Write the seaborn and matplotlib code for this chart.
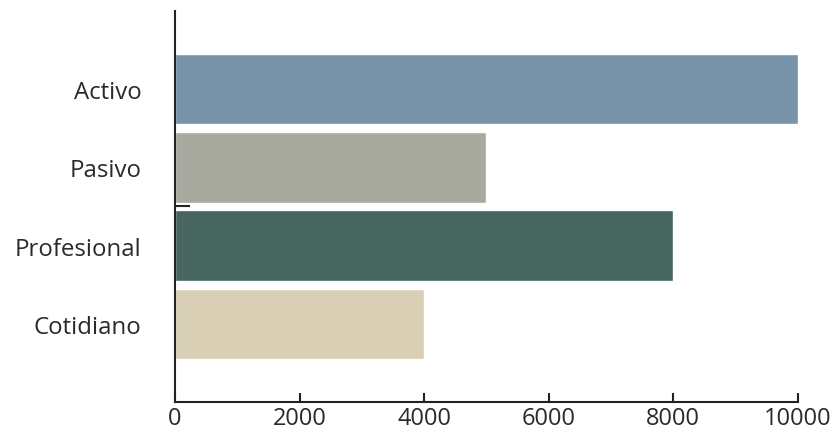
import matplotlib
matplotlib.use("Agg")
import matplotlib.pyplot as plt
import seaborn as sns
import pandas as pd

categories = ["Activo", "Pasivo", "Profesional", "Cotidiano"]
values = [10000, 5000, 8000, 4000]
colors = ["#7794AA", "#A8AAA0", "#476660", "#D9CFB5"]
xticks = [0, 2000, 4000, 6000, 8000, 10000]

sns.set_style("white")
plt.rcParams["font.family"] = ["Open Sans", "DejaVu Sans"]

df = pd.DataFrame({"categoria": categories, "valor": values})

fig = plt.figure(figsize=(8.39, 4.35), dpi=100)
ax = fig.add_axes([0.2086, 0.0736, 0.7424, 0.8988])

sns.barplot(
    data=df,
    x="valor",
    y="categoria",
    hue="categoria",
    palette=colors,
    width=0.9,
    legend=False,
    saturation=1,
    ax=ax
)

ax.set_xlim(0, 10000)
ax.set_ylim(4, -1)
ax.set_xticks(xticks)
ax.set_xticklabels([str(v) for v in xticks])
ax.set_xlabel("")
ax.set_ylabel("")

for side in ["top", "right"]:
    ax.spines[side].set_visible(False)
for side in ["left", "bottom"]:
    ax.spines[side].set_color("#222222")
    ax.spines[side].set_linewidth(1.5)

ax.tick_params(axis="x", bottom=True, direction="in", length=6.5, width=1.5,
               color="#222222", labelsize=17, labelcolor="#2a2a2a", pad=3)
ax.tick_params(axis="y", which="major", left=True, length=0, labelsize=17.3,
               labelcolor="#2a2a2a", pad=24)
# stray tick between Pasivo and Profesional
ax.set_yticks([1.5], minor=True)
ax.tick_params(axis="y", which="minor", left=True, direction="in", length=11,
               width=1.5, color="#222222")

fig.savefig("out.png", dpi=100, facecolor="white")
